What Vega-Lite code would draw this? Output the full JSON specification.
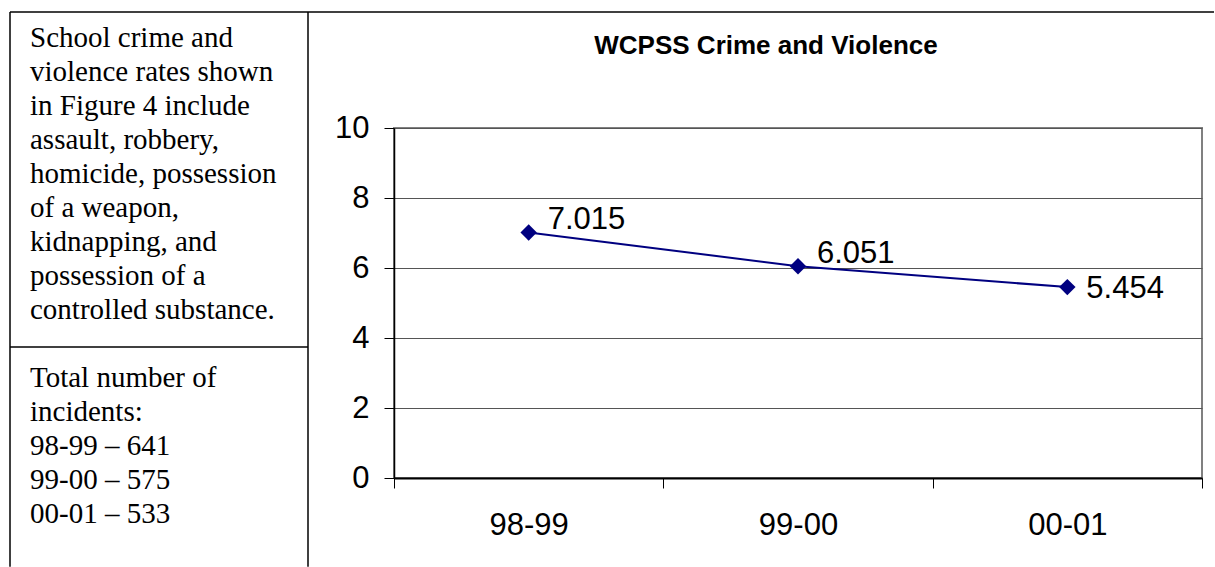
{
  "$schema": "https://vega.github.io/schema/vega-lite/v6.json",
  "padding": {"left": 9, "top": 10, "right": 0, "bottom": 0},
  "autosize": {"type": "pad"},
  "background": "white",
  "spacing": 86,
  "bounds": "flush",
  "config": {"font": "Liberation Sans"},
  "datasets": {
    "rates": [
      {"period": "98-99", "rate": 7.015},
      {"period": "99-00", "rate": 6.051},
      {"period": "00-01", "rate": 5.454}
    ],
    "notes": [
      {"row": 1, "text": "School crime and"},
      {"row": 2, "text": "violence rates shown"},
      {"row": 3, "text": "in Figure 4 include"},
      {"row": 4, "text": "assault, robbery,"},
      {"row": 5, "text": "homicide, possession"},
      {"row": 6, "text": "of a weapon,"},
      {"row": 7, "text": "kidnapping, and"},
      {"row": 8, "text": "possession of a"},
      {"row": 9, "text": "controlled substance."},
      {"row": 11, "text": "Total number of"},
      {"row": 12, "text": "incidents:"},
      {"row": 13, "text": "98-99 – 641"},
      {"row": 14, "text": "99-00 – 575"},
      {"row": 15, "text": "00-01 – 533"}
    ]
  },
  "hconcat": [
    {
      "width": 298,
      "height": 438,
      "view": {"stroke": null},
      "layer": [
        {
          "data": {"name": "notes"},
          "mark": {"type": "text", "align": "left", "baseline": "alphabetic", "dx": 20, "font": "Liberation Serif", "fontSize": 29, "color": "#000"},
          "encoding": {
            "x": {"datum": 0, "type": "quantitative", "scale": {"domain": [0, 1], "nice": false, "zero": false}, "axis": null},
            "y": {"field": "row", "type": "quantitative", "scale": {"domain": [3.3824, 16.2647], "reverse": true, "nice": false, "zero": false}, "axis": null},
            "text": {"field": "text"}
          }
        },
        {
          "data": {"values": [{"edge": 0}, {"edge": 1}]},
          "mark": {"type": "rule", "color": "#000", "strokeWidth": 1.5},
          "encoding": {
            "x": {"field": "edge", "type": "quantitative", "scale": {"domain": [0, 1], "nice": false, "zero": false}, "axis": null},
            "y": {"datum": -0.0294, "type": "quantitative", "scale": {"domain": [3.3824, 16.2647], "reverse": true, "nice": false, "zero": false}, "axis": null},
            "y2": {"datum": 16.29}
          }
        },
        {
          "data": {"values": [{"edge": -0.0294}, {"edge": 9.8235}]},
          "mark": {"type": "rule", "color": "#000", "strokeWidth": 1.5},
          "encoding": {
            "y": {"field": "edge", "type": "quantitative", "scale": {"domain": [3.3824, 16.2647], "reverse": true, "nice": false, "zero": false}, "axis": null}
          }
        }
      ]
    },
    {
      "width": 808,
      "height": 350,
      "view": {"stroke": "#808080", "strokeWidth": 2},
      "title": {
        "text": "WCPSS Crime and Violence",
        "font": "Liberation Sans",
        "fontSize": 26,
        "fontWeight": "bold",
        "color": "#000",
        "anchor": "middle",
        "frame": "group",
        "baseline": "alphabetic",
        "dx": -32,
        "offset": -69
      },
      "resolve": {"scale": {"x": "independent"}},
      "layer": [
        {
          "data": {"name": "rates"},
          "encoding": {
            "x": {
              "field": "period", "type": "ordinal", "sort": null,
              "scale": {"type": "band", "paddingInner": 0, "paddingOuter": 0},
              "axis": {"title": null, "labelAngle": 0, "tickBand": "extent", "grid": false, "labelFontSize": 31, "labelPadding": 22, "labelColor": "#000", "tickSize": 10, "tickColor": "#000", "tickWidth": 1, "domainColor": "#000", "domainWidth": 2}
            },
            "y": {
              "field": "rate", "type": "quantitative",
              "scale": {"domain": [0, 10], "nice": false, "zero": false},
              "axis": {"title": null, "values": [0, 2, 4, 6, 8, 10], "grid": true, "gridColor": "#555", "gridWidth": 1, "tickSize": 10, "tickColor": "#000", "tickWidth": 1, "domainColor": "#000", "domainWidth": 1.5, "labelFontSize": 31, "labelPadding": 15, "labelColor": "#000"}
            }
          },
          "layer": [
            {"mark": {"type": "line", "color": "#000080", "strokeWidth": 2}},
            {"mark": {"type": "point", "shape": "diamond", "filled": true, "size": 270, "color": "#000080", "opacity": 1}},
            {
              "transform": [{"filter": "datum.period !== '00-01'"}],
              "mark": {"type": "text", "align": "left", "baseline": "alphabetic", "dx": 19, "dy": -3, "fontSize": 31, "color": "#000"},
              "encoding": {"text": {"field": "rate", "type": "quantitative", "format": ".3f"}}
            },
            {
              "transform": [{"filter": "datum.period === '00-01'"}],
              "mark": {"type": "text", "align": "left", "baseline": "alphabetic", "dx": 19, "dy": 11, "fontSize": 31, "color": "#000"},
              "encoding": {"text": {"field": "rate", "type": "quantitative", "format": ".3f"}}
            }
          ]
        },
        {
          "data": {"values": [{}]},
          "mark": {"type": "rule", "color": "#000", "strokeWidth": 1.5},
          "encoding": {
            "x": {"datum": -86, "type": "quantitative", "scale": {"domain": [0, 808], "nice": false, "zero": false}, "axis": null},
            "x2": {"datum": 820},
            "y": {"datum": 13.314, "type": "quantitative", "scale": {"domain": [0, 10], "nice": false, "zero": false}}
          }
        }
      ]
    }
  ]
}
